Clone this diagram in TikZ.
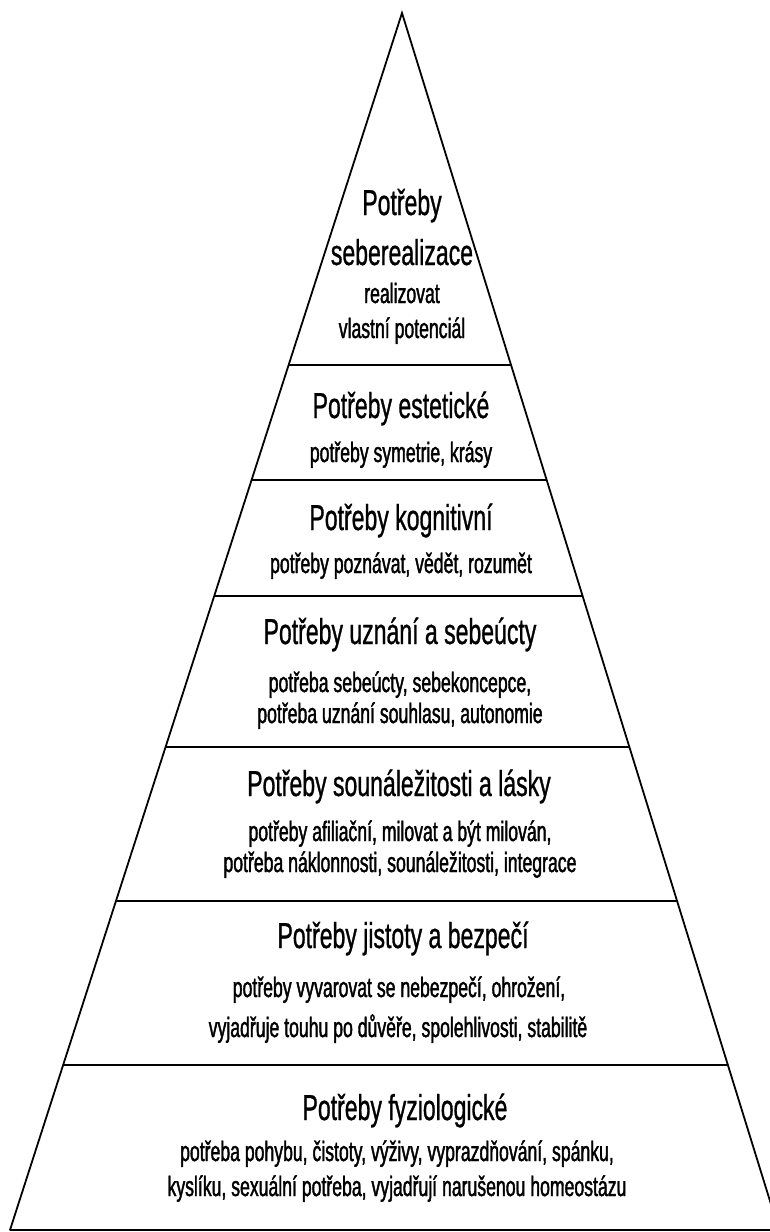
\documentclass[tikz,border=0pt]{standalone}
\usepackage{fontspec}
\setmainfont{Liberation Sans}
\newfontfamily\titlefont[FakeStretch=0.64,FakeBold=0.8]{Liberation Sans}
\newfontfamily\subfont[FakeStretch=0.63,FakeBold=1.4]{Liberation Sans}
\usetikzlibrary{calc}
\begin{document}
\begin{tikzpicture}[x=1pt,y=-1pt,
  side/.style={line width=1.8pt, line join=miter, line cap=round},
  divider/.style={line width=2.2pt},
  ttl/.style={font=\titlefont\fontsize{36}{40}\selectfont, inner sep=0pt, anchor=base},
  sub/.style={font=\subfont\fontsize{28}{32}\selectfont, inner sep=0pt, anchor=base},
]
\useasboundingbox (0,0) rectangle (770,1232);
\clip (0,0) rectangle (770,1232);
\fill[white] (0,0) rectangle (770,1232);
% pyramid corners
\coordinate (apex) at (402,13);
\coordinate (BL) at (10,1230);
\coordinate (BR) at (779,1230);
\draw[side] (BL) -- (apex) -- (BR);
\draw[divider] (BL) -- (BR);
% dividers
\foreach \yy/\nm in {365/d1, 480/d2, 596/d3, 747/d4, 901/d5, 1065/d6}{
  \coordinate (\nm L) at ($(apex)!{(\yy-13)/1217}!(BL)$);
  \coordinate (\nm R) at ($(apex)!{(\yy-13)/1217}!(BR)$);
  \draw[divider] (\nm L) -- (\nm R);
}
% level 1
\node[ttl] (t1a) at (402,215) {Potřeby};
\node[ttl] (t1b) at (402,265) {seberealizace};
\node[sub] (s1a) at (402,303) {realizovat};
\node[sub] (s1b) at (402,338) {vlastní potenciál};
% level 2
\node[ttl] (t2) at (401,418) {Potřeby estetické};
\node[sub] (s2) at (401,462) {potřeby symetrie, krásy};
% level 3
\node[ttl] (t3) at (401,530) {Potřeby kognitivní};
\node[sub] (s3) at (401,573) {potřeby poznávat, vědět, rozumět};
% level 4
\node[ttl] (t4) at (400,644) {Potřeby uznání a sebeúcty};
\node[sub] (s4a) at (400,692) {potřeba sebeúcty, sebekoncepce,};
\node[sub] (s4b) at (400,723) {potřeba uznání souhlasu, autonomie};
% level 5
\node[ttl] (t5) at (399,796) {Potřeby sounáležitosti a lásky};
\node[sub] (s5a) at (400,841) {potřeby afiliační, milovat a být milován,};
\node[sub] (s5b) at (400,872) {potřeba náklonnosti, sounáležitosti, integrace};
% level 6
\node[ttl] (t6) at (403,948) {Potřeby jistoty a bezpečí};
\node[sub] (s6a) at (399,997) {potřeby vyvarovat se nebezpečí, ohrožení,};
\node[sub] (s6b) at (398,1037) {vyjadřuje touhu po důvěře, spolehlivosti, stabilitě};
% level 7
\node[ttl] (t7) at (405,1120) {Potřeby fyziologické};
\node[sub] (s7a) at (397,1161) {potřeba pohybu, čistoty, výživy, vyprazdňování, spánku,};
\node[sub] (s7b) at (397,1196) {kyslíku, sexuální potřeba, vyjadřují narušenou homeostázu};
\end{tikzpicture}
\end{document}
